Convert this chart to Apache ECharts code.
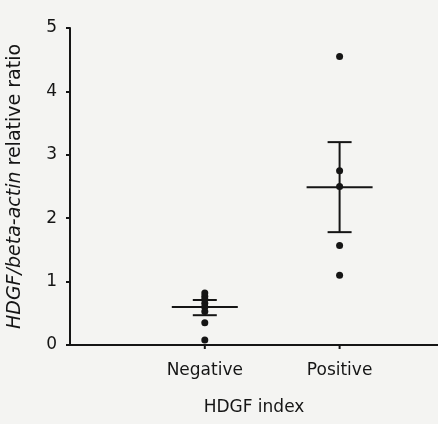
<!DOCTYPE html>
<html lang="en">
<head>
    <meta charset="UTF-8">
    <title>HDGF index</title>
    <style>
        html, body { margin: 0; padding: 0; background: #f4f4f2; }
    </style>
</head>
<body>
<div id="main" style="width: 438px;height:424px;"></div>
<script src="https://cdn.jsdelivr.net/npm/echarts@6/dist/echarts.min.js"></script>
<script>
    // groups and their x position on the value axis
    var groups = ['Negative', 'Positive'];
    var groupX = [1, 2];

    // individual samples
    var negativeValues = [0.82, 0.77, 0.72, 0.66, 0.6, 0.53, 0.35, 0.08];
    var positiveValues = [4.55, 2.75, 2.5, 1.57, 1.1];

    // mean with upper / lower error limits
    var means = [0.6, 2.49];
    var upper = [0.71, 3.2];
    var lower = [0.47, 1.78];

    var yTicks = [0, 1, 2, 3, 4, 5];

    var points = [];
    negativeValues.forEach(function (v) { points.push([groupX[0], v]); });
    positiveValues.forEach(function (v) { points.push([groupX[1], v]); });

    var summary = [];
    for (var i = 0; i < groups.length; i++) {
        summary.push([groupX[i], means[i], lower[i], upper[i]]);
    }

    var ink = '#151515';
    var font = '"DejaVu Sans", sans-serif';

    var myChart = echarts.init(document.getElementById('main'));
    var option = {
        backgroundColor: '#f4f4f2',
        animation: false,
        grid: { left: 70, right: 0, top: 28, bottom: 79, outerBoundsMode: 'none' },
        xAxis: {
            type: 'value',
            min: 0,
            max: 2.73,
            name: 'HDGF index',
            nameLocation: 'middle',
            nameGap: 54,
            nameTextStyle: { color: ink, fontSize: 17, fontFamily: font },
            axisLine: { show: true, lineStyle: { color: ink, width: 2 } },
            axisTick: { show: false },
            splitLine: { show: false },
            axisLabel: { show: false }
        },
        yAxis: {
            type: 'value',
            min: 0,
            max: 5,
            interval: 1,
            name: '{i|HDGF/beta-actin} {n|relative ratio}',
            nameLocation: 'middle',
            nameRotate: 90,
            nameGap: 45,
            nameTextStyle: {
                fontSize: 19,
                fontFamily: font,
                rich: {
                    i: { fontStyle: 'italic', fontSize: 19, color: ink, fontFamily: font },
                    n: { fontSize: 19, color: ink, fontFamily: font }
                }
            },
            axisLine: { show: true, lineStyle: { color: ink, width: 2 } },
            axisTick: { show: true, inside: false, length: 4, lineStyle: { color: ink, width: 2 } },
            splitLine: { show: false },
            axisLabel: {
                color: ink, fontSize: 17, fontFamily: font, margin: 13,
                formatter: function (v) { return yTicks.indexOf(v) >= 0 ? String(v) : ''; }
            }
        },
        series: [
            {
                // category labels and small ticks under the axis
                type: 'custom',
                silent: true,
                data: groupX.map(function (x, k) { return [x, 0, k]; }),
                renderItem: function (params, api) {
                    var p = api.coord([api.value(0), 0]);
                    return {
                        type: 'group',
                        children: [
                            { type: 'line', shape: { x1: p[0], y1: p[1], x2: p[0], y2: p[1] + 4 },
                              style: { stroke: ink, lineWidth: 2 } },
                            { type: 'text', x: p[0], y: p[1] + 17,
                              style: { text: groups[api.value(2)], fill: ink, font: '17px ' + font,
                                       textAlign: 'center', textVerticalAlign: 'top' } }
                        ]
                    };
                },
                z: 1
            },
            {
                // mean line and error bar
                type: 'custom',
                silent: true,
                data: summary,
                renderItem: function (params, api) {
                    var x = api.value(0);
                    var m = api.coord([x, api.value(1)]);
                    var lo = api.coord([x, api.value(2)]);
                    var hi = api.coord([x, api.value(3)]);
                    var halfMean = 33, halfCap = 12;
                    var st = { stroke: ink, lineWidth: 2 };
                    return {
                        type: 'group',
                        children: [
                            { type: 'line', shape: { x1: m[0] - halfMean, y1: m[1], x2: m[0] + halfMean, y2: m[1] }, style: st },
                            { type: 'line', shape: { x1: lo[0], y1: lo[1], x2: hi[0], y2: hi[1] }, style: st },
                            { type: 'line', shape: { x1: hi[0] - halfCap, y1: hi[1], x2: hi[0] + halfCap, y2: hi[1] }, style: st },
                            { type: 'line', shape: { x1: lo[0] - halfCap, y1: lo[1], x2: lo[0] + halfCap, y2: lo[1] }, style: st }
                        ]
                    };
                },
                z: 2
            },
            {
                type: 'scatter',
                data: points,
                symbol: 'circle',
                symbolSize: 7,
                itemStyle: { color: ink, opacity: 1 },
                z: 3
            }
        ]
    };
    myChart.setOption(option);
</script>
</body>
</html>
